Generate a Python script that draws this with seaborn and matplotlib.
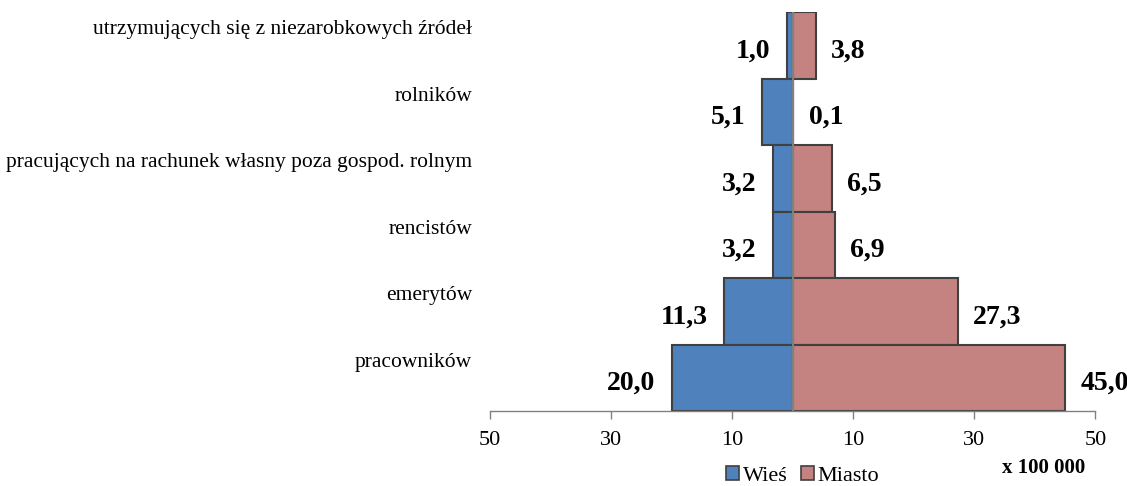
import matplotlib
matplotlib.use("Agg")
import matplotlib.pyplot as plt
import matplotlib.transforms as mtransforms
from matplotlib.patches import Patch
import seaborn as sns
import pandas as pd

categories = [
    "utrzymujących się z niezarobkowych źródeł",
    "rolników",
    "pracujących na rachunek własny poza gospod. rolnym",
    "rencistów",
    "emerytów",
    "pracowników",
]
wies = [1.0, 5.1, 3.2, 3.2, 11.3, 20.0]
miasto = [3.8, 0.1, 6.5, 6.9, 27.3, 45.0]
series_names = ["Wieś", "Miasto"]
tick_values = [-50, -30, -10, 10, 30, 50]
tick_labels = ["50", "30", "10", "10", "30", "50"]

colors = {"Wieś": "#4F81BD", "Miasto": "#C48280"}

sns.set_theme(style="white")
plt.rcParams["font.family"] = ["Liberation Serif", "DejaVu Serif"]
plt.rcParams["text.color"] = "black"
plt.rcParams["xtick.labelcolor"] = "black"
plt.rcParams["ytick.labelcolor"] = "black"

rows = []
for c, w, m in zip(categories, wies, miasto):
    rows.append({"cat": c, "series": "Wieś", "val": -w})
    rows.append({"cat": c, "series": "Miasto", "val": m})
df = pd.DataFrame(rows)

fig = plt.figure(figsize=(11.27, 4.86), dpi=100)
ax = fig.add_axes([0.435, 0.154, 0.537, 0.821])

sns.barplot(data=df, x="val", y="cat", hue="series", order=categories,
            hue_order=series_names, palette=colors, dodge=False, width=1.0,
            saturation=1, orient="h", edgecolor="#404040", linewidth=1.5,
            legend=False, ax=ax)

ax.set_xlim(-50, 50)
ax.set_ylim(len(categories) - 0.5, -0.5)
ax.axvline(0, color="#808080", linewidth=1.5, zorder=5)

ax.set_xticks(tick_values)
ax.set_xticklabels(tick_labels, fontsize=16, color="black")
ax.tick_params(axis="x", direction="out", length=6, width=1, color="#808080",
               bottom=True, pad=8)
ax.set_xlabel("")
ax.set_ylabel("")

for s in ["top", "right", "left"]:
    ax.spines[s].set_visible(False)
ax.spines["bottom"].set_color("#808080")
ax.spines["bottom"].set_linewidth(1)

ax.set_yticks(range(len(categories)))
ax.set_yticklabels(categories, fontsize=15.5, color="black")
ax.tick_params(axis="y", length=0, pad=13)
offset = mtransforms.ScaledTranslation(0, 0.18, fig.dpi_scale_trans)
for lbl in ax.get_yticklabels():
    lbl.set_transform(lbl.get_transform() + offset)

def fmt(v):
    return f"{v:.1f}".replace(".", ",")

for i, (w, m) in enumerate(zip(wies, miasto)):
    ax.annotate(fmt(w), xy=(-w, i), xytext=(-12, -4), textcoords="offset points",
                ha="right", va="center", fontsize=20, fontweight="bold",
                color="black")
    ax.annotate(fmt(m), xy=(m, i), xytext=(11, -4), textcoords="offset points",
                ha="left", va="center", fontsize=20, fontweight="bold",
                color="black")

handles = [Patch(facecolor=colors[s], edgecolor="#404040", linewidth=1.2, label=s)
           for s in series_names]
leg = fig.legend(handles=handles, loc="center", bbox_to_anchor=(0.712, 0.02), ncol=2,
                 frameon=False, fontsize=16, handlelength=0.6, handleheight=0.6,
                 handletextpad=0.15, columnspacing=0.6, borderpad=0, borderaxespad=0)
for t in leg.get_texts():
    t.set_color("black")

fig.text(0.926, 0.037, "x 100 000", ha="center", va="center", fontsize=15,
         fontweight="bold", color="black")

fig.savefig("out.png", dpi=100)
